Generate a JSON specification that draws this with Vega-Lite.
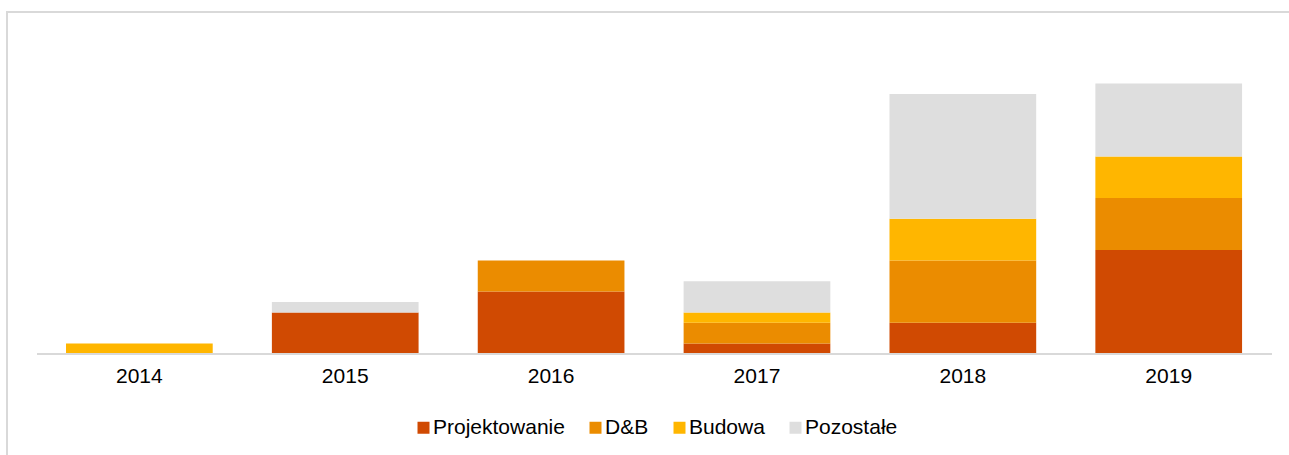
{
  "$schema": "https://vega.github.io/schema/vega-lite/v6.json",
  "width": 1282,
  "height": 443,
  "autosize": {"type": "none"},
  "padding": {"left": 7, "top": 12, "right": 0, "bottom": 0},
  "background": "white",
  "config": {
    "view": {"stroke": "#d9d9d9", "strokeWidth": 2, "strokeDash": [1282, 1725, 443]},
    "font": "Liberation Sans"
  },
  "data": {
    "values": [
      {"year": "2014", "cat": "Budowa", "ord": 3, "value": 1},
      {"year": "2015", "cat": "Projektowanie", "ord": 1, "value": 4},
      {"year": "2015", "cat": "Pozostałe", "ord": 4, "value": 1},
      {"year": "2016", "cat": "Projektowanie", "ord": 1, "value": 6},
      {"year": "2016", "cat": "D&B", "ord": 2, "value": 3},
      {"year": "2017", "cat": "Projektowanie", "ord": 1, "value": 1},
      {"year": "2017", "cat": "D&B", "ord": 2, "value": 2},
      {"year": "2017", "cat": "Budowa", "ord": 3, "value": 1},
      {"year": "2017", "cat": "Pozostałe", "ord": 4, "value": 3},
      {"year": "2018", "cat": "Projektowanie", "ord": 1, "value": 3},
      {"year": "2018", "cat": "D&B", "ord": 2, "value": 6},
      {"year": "2018", "cat": "Budowa", "ord": 3, "value": 4},
      {"year": "2018", "cat": "Pozostałe", "ord": 4, "value": 12},
      {"year": "2019", "cat": "Projektowanie", "ord": 1, "value": 10},
      {"year": "2019", "cat": "D&B", "ord": 2, "value": 5},
      {"year": "2019", "cat": "Budowa", "ord": 3, "value": 4},
      {"year": "2019", "cat": "Pozostałe", "ord": 4, "value": 7}
    ]
  },
  "layer": [
    {
      "mark": {"type": "bar"},
      "encoding": {
        "x": {
          "field": "year",
          "type": "nominal",
          "scale": {"paddingInner": 0.2874, "paddingOuter": 0.2573, "align": 0.557},
          "axis": {
            "orient": "bottom",
            "offset": -101,
            "domain": false,
            "ticks": false,
            "grid": false,
            "labelFontSize": 21,
            "labelColor": "#000000",
            "labelPadding": 11,
            "labelAngle": 0,
            "title": null
          }
        },
        "y": {
          "field": "value",
          "type": "quantitative",
          "stack": "zero",
          "scale": {"domain": [-9.712, 32.885], "nice": false, "zero": false},
          "axis": null
        },
        "order": {"field": "ord", "type": "quantitative", "sort": "ascending"},
        "color": {
          "field": "cat",
          "type": "nominal",
          "scale": {
            "domain": ["Projektowanie", "D&B", "Budowa", "Pozostałe"],
            "range": ["#D04A02", "#EB8C00", "#FFB600", "#DEDEDE"]
          },
          "legend": {
            "orient": "none",
            "legendX": 406,
            "legendY": 405,
            "direction": "horizontal",
            "title": null,
            "symbolType": "square",
            "symbolSize": 144,
            "symbolStrokeWidth": 0,
            "symbolOpacity": 1,
            "labelFontSize": 21,
            "labelColor": "#000000",
            "columnPadding": 20,
            "labelOffset": -1,
            "padding": 0
          }
        }
      }
    },
    {
      "data": {"values": [{}]},
      "mark": {"type": "rule", "color": "#d9d9d9", "strokeWidth": 2},
      "encoding": {
        "x": {"datum": "2014", "type": "nominal", "bandPosition": -0.1977},
        "x2": {"datum": "2019", "bandPosition": 1.204},
        "y": {"datum": 0, "type": "quantitative"}
      }
    }
  ]
}
